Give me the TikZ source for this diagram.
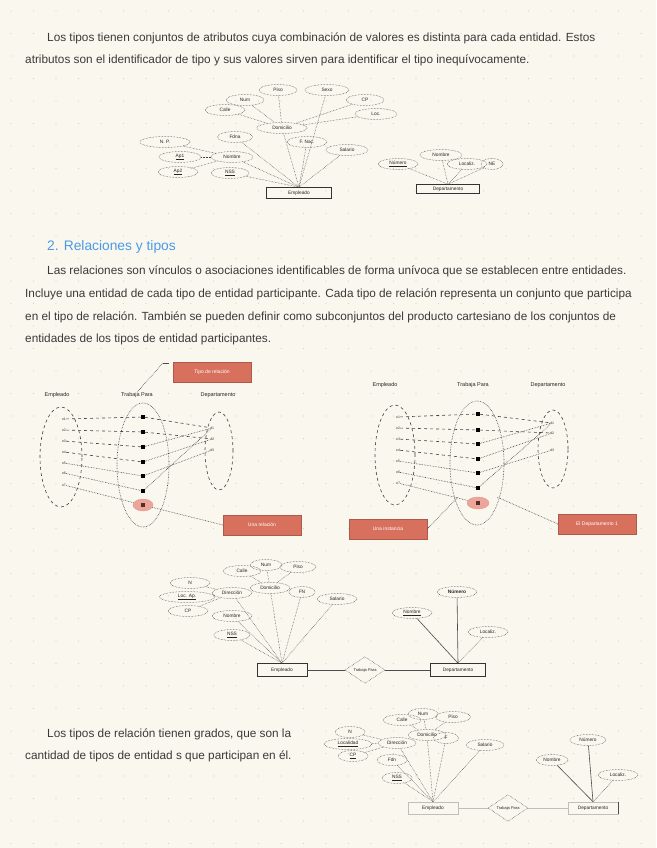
\documentclass[tikz,border=0pt]{standalone}
\usepackage{fontspec}
\setmainfont{Liberation Sans}
\usetikzlibrary{shapes.geometric}
\definecolor{bg}{HTML}{FAF7EE}
\definecolor{dotc}{HTML}{D6D3C8}
\definecolor{txt}{HTML}{3A3A3A}
\definecolor{headc}{HTML}{4A9BE6}
\definecolor{salmon}{HTML}{D8705E}
\definecolor{pinkf}{HTML}{EBA59A}
\begin{document}
\begin{tikzpicture}[x=1pt,y=-1pt,
  para/.style={anchor=base west,inner sep=0pt,text=txt,font=\fontsize{11.8}{13}\selectfont},
  attr/.style={ellipse,draw=black!75,densely dotted,line width=0.5pt,inner sep=0pt,minimum height=11,text=black!85,font=\fontsize{4.8}{5}\selectfont},
  ent/.style={rectangle,draw=black!80,line width=0.6pt,inner sep=0pt,text=black!85,font=\fontsize{4.8}{5}\selectfont},
  rel/.style={diamond,draw=black!75,densely dotted,line width=0.5pt,inner sep=0pt,text=black!85,font=\fontsize{4}{5}\selectfont},
  conn/.style={densely dotted,line width=0.5pt,draw=black!75},
  link/.style={line width=0.6pt,draw=black!70},
  setlab/.style={inner sep=0pt,text=black!85,font=\fontsize{5.5}{6}\selectfont},
  setell/.style={ellipse,draw=black!75,dashed,line width=0.6pt,inner sep=0pt},
  elem/.style={inner sep=0pt,text=black!80,font=\fontsize{3.5}{4}\selectfont},
  sq/.style={rectangle,fill=black,minimum size=3.5,inner sep=0pt},
  redbox/.style={rectangle,fill=salmon,draw=salmon!80!black,line width=0.3pt,text=white,inner sep=0pt,minimum width=78,minimum height=20,font=\fontsize{5}{6}\selectfont},
  dl/.style={dashed,line width=0.6pt,draw=black!75},
  ddl/.style={densely dotted,line width=0.6pt,draw=black!75}
]
\useasboundingbox[fill=bg] (0,0) rectangle (656,848);
\foreach \i in {0,...,29} \foreach \j in {0,...,37}
  \fill[dotc] (11+\i*22.5,11+\j*22.5) circle (0.7);

% ---------- paragraph 1 ----------
\node[para] (p1a) at (47,42) {Los tipos tienen conjuntos de atributos cuya combinación de valores es distinta para cada entidad. Estos};
\node[para] (p1b) at (25,64) {atributos son el identificador de tipo y sus valores sirven para identificar el tipo inequívocamente.};

% ---------- top ER: Empleado ----------
\node[ent,minimum width=65,minimum height=11] (emp1) at (299,193) {Empleado};
\node[attr,minimum width=50] (np) at (165,142) {N. P.};
\node[attr,minimum width=42] (ap1) at (180,157) {\underline{Ap1}};
\node[attr,minimum width=40] (ap2) at (178,172) {\underline{Ap2}};
\node[attr,minimum width=35] (fdna) at (235,137) {Fdna};
\node[attr,minimum width=42] (nom1) at (232,157) {Nombre};
\node[attr,minimum width=38] (nss1) at (230,173) {\underline{NSS}};
\node[attr,minimum width=40] (calle1) at (225,110) {Calle};
\node[attr,minimum width=38] (num1) at (245,100) {Num};
\node[attr,minimum width=38] (piso1) at (278,90) {Piso};
\node[attr,minimum width=44] (sexo1) at (327,90) {Sexo};
\node[attr,minimum width=38] (cp1) at (365,100) {CP};
\node[attr,minimum width=42] (loc1) at (376,114) {Loc.};
\node[attr,minimum width=50] (dom1) at (282,128) {Domicilio};
\node[attr,minimum width=40] (fnac1) at (307,142) {F. Nac.};
\node[attr,minimum width=42] (sal1) at (347,150) {Salario};
\foreach \a in {np,ap1,ap2} \draw[conn] (\a) -- (nom1);
\foreach \a in {calle1,num1,piso1,cp1,loc1} \draw[conn] (\a) -- (dom1);
\foreach \a in {fdna,nom1,nss1,dom1,fnac1,sal1,sexo1} \draw[conn] (\a) -- (emp1.north);

% ---------- top ER: Departamento ----------
\node[ent,minimum width=63,minimum height=9] (dep1) at (448,189) {Departamento};
\node[attr,minimum width=40] (dnum1) at (398,164) {\underline{Número}};
\node[attr,minimum width=42] (dnom1) at (441,155) {Nombre};
\node[attr,minimum width=40] (dloc1) at (467,164) {Localiz.};
\node[attr,minimum width=22] (dne1) at (492,164) {NE};
\foreach \a in {dnum1,dnom1,dloc1,dne1} \draw[conn] (\a) -- (dep1.north);

% ---------- heading + paragraph 2 ----------
\node[para,text=headc,font=\fontsize{13.8}{15}\selectfont] (h2) at (47,250) {2. Relaciones y tipos};
\node[para] (p2a) at (47,274) {Las relaciones son vínculos o asociaciones identificables de forma unívoca que se establecen entre entidades.};
\node[para] (p2b) at (25,297) {Incluye una entidad de cada tipo de entidad participante. Cada tipo de relación representa un conjunto que participa};
\node[para] (p2c) at (25,320) {en el tipo de relación. También se pueden definir como subconjuntos del producto cartesiano de los conjuntos de};
\node[para] (p2d) at (25,342) {entidades de los tipos de entidad participantes.};

% ---------- set diagram left ----------
\node[setlab] (lE) at (57,395) {Empleado};
\node[setlab] (lT) at (137,395) {Trabaja Para};
\node[setlab] (lD) at (218,395) {Departamento};
\node[setell,minimum width=42,minimum height=100] (sE) at (61,457) {};
\node[setell,densely dotted,minimum width=52,minimum height=124] (sT) at (143,465) {};
\node[setell,minimum width=28,minimum height=78] (sD) at (219,451) {};
\foreach \k/\y in {1/419,2/430,3/441,4/452,5/463,6/473,7/485}
  \node[elem] (le\k) at (64,\y) {e\k};
\foreach \k/\y in {1/417,2/432,3/447,4/462,5/476,6/491}
  \node[sq] (lr\k) at (143,\y) {};
\node[ellipse,fill=pinkf,draw=salmon!70,minimum width=20,minimum height=12,inner sep=0pt] (lr7e) at (143,505) {};
\node[sq,fill=black!60!salmon] (lr7) at (143,505) {};
\foreach \k/\y in {1/428,2/439,3/450}
  \node[elem] (ld\k) at (212,\y) {d\k};
\draw[dl] (le1) -- (lr1); \draw[dl] (le2) -- (lr2); \draw[dl] (le3) -- (lr3);
\draw[dl] (le4) -- (lr4); \draw[ddl] (le5) -- (lr5); \draw[ddl] (le6) -- (lr6); \draw[ddl] (le7) -- (lr7e);
\draw[dl] (lr1) -- (ld1); \draw[dl] (lr2) -- (ld2); \draw[ddl] (lr3) -- (ld1);
\draw[ddl] (lr4) -- (ld2); \draw[ddl] (lr5) -- (ld3); \draw[ddl] (lr6) -- (ld1);
\node[redbox] (rb1) at (212,372) {Tipo de relación};
\coordinate (rb1c) at (163,363);
\draw[ddl] (rb1c) -- (lT.north);
\draw[link] (rb1c) -- ++(6,0);
\node[redbox] (rb2) at (262,525) {Una relación};
\draw[ddl] (lr7e) -- (rb2.west);

% ---------- set diagram right ----------
\node[setlab] (rE) at (385,385) {Empleado};
\node[setlab] (rT) at (473,385) {Trabaja Para};
\node[setlab] (rD) at (548,385) {Departamento};
\node[setell,minimum width=40,minimum height=100] (tE) at (395,455) {};
\node[setell,densely dotted,minimum width=54,minimum height=124] (tT) at (477,463) {};
\node[setell,minimum width=30,minimum height=78] (tD) at (553,449) {};
\foreach \k/\y in {1/417,2/428,3/439,4/450,5/461,6/472,7/483}
  \node[elem] (re\k) at (398,\y) {e\k};
\foreach \k/\y in {1/414,2/430,3/444,4/459,5/473,6/488}
  \node[sq] (rr\k) at (478,\y) {};
\node[ellipse,fill=pinkf,draw=salmon!70,minimum width=22,minimum height=12,inner sep=0pt] (rr7e) at (478,503) {};
\node[sq,fill=black!60!salmon] (rr7) at (478,503) {};
\foreach \k/\y in {1/423,2/433,3/450}
  \node[elem] (rd\k) at (552,\y) {d\k};
\draw[dl] (re1) -- (rr1); \draw[dl] (re2) -- (rr2); \draw[dl] (re3) -- (rr3);
\draw[dl] (re4) -- (rr4); \draw[ddl] (re5) -- (rr5); \draw[ddl] (re6) -- (rr6); \draw[ddl] (re7) -- (rr7e);
\draw[dl] (rr1) -- (rd1); \draw[dl] (rr2) -- (rd2); \draw[ddl] (rr3) -- (rd1);
\draw[ddl] (rr4) -- (rd2); \draw[ddl] (rr5) -- (rd3); \draw[ddl] (rr6) -- (rd1);
\node[redbox] (rb3) at (388,529) {Una instancia};
\node[redbox] (rb4) at (597,524) {El Departamento 1};
\coordinate (rb3c) at (458,497);
\draw[ddl] (rb3.east) -- (rb3c);
\coordinate (rb4c) at (497,497);
\draw[ddl] (rb4.west) -- (rb4c);

% ---------- bottom ER 1 ----------
\node[ent,minimum width=50,minimum height=13] (emp2) at (282,670) {Empleado};
\node[rel,minimum width=40,minimum height=22] (rel2) at (365,670) {Trabaja Para};
\node[ent,minimum width=55,minimum height=13] (dep2) at (458,670) {Departamento};
\draw[link] (emp2) -- (rel2);
\draw[link] (rel2) -- (dep2);
\node[attr,minimum width=40] (n2) at (190,583) {N};
\node[attr,minimum width=55] (loc2) at (187,597) {\underline{Loc. Ap.}};
\node[attr,minimum width=40] (cp2) at (188,611) {CP};
\node[attr,minimum width=40] (dir2) at (232,593) {Dirección};
\node[attr,minimum width=38] (calle2) at (242,571) {Calle};
\node[attr,minimum width=32] (num2) at (266,565) {Num};
\node[attr,minimum width=36] (piso2) at (298,567) {Piso};
\node[attr,minimum width=40] (dom2) at (270,588) {Domicilio};
\node[attr,minimum width=26] (fn2) at (302,592) {FN};
\node[attr,minimum width=40] (sal2) at (337,599) {Salario};
\node[attr,minimum width=40] (nomb2) at (232,616) {Nombre};
\node[attr,minimum width=36] (nss2) at (232,635) {\underline{NSS}};
\foreach \a in {n2,loc2,cp2} \draw[conn] (\a) -- (dir2);
\foreach \a in {calle2,num2,piso2} \draw[conn] (\a) -- (dom2);
\foreach \a in {dir2,dom2,fn2,sal2,nomb2,nss2} \draw[conn] (\a) -- (emp2.north);
\node[attr,minimum width=40] (dnum2) at (457,592) {\textbf{Número}};
\node[attr,minimum width=40] (dnom2) at (412,613) {\underline{Nombre}};
\node[attr,minimum width=40] (dloc2) at (488,632) {Localiz.};
\draw[link] (dnom2) -- (dep2.north);
\draw[link] (dnum2) -- (dep2.north);
\draw[conn] (dloc2) -- (dep2.north);

% ---------- paragraph 3 ----------
\node[para] (p3a) at (47,737) {Los tipos de relación tienen grados, que son la};
\node[para] (p3b) at (25,759) {cantidad de tipos de entidad s que participan en él.};

% ---------- bottom ER 2 ----------
\node[ent,draw=black!25,minimum width=50,minimum height=12] (emp3) at (433,808) {Empleado};
\node[rel,minimum width=40,minimum height=24] (rel3) at (508,808) {Trabaja Para};
\node[ent,draw=black!25,minimum width=50,minimum height=12] (dep3) at (593,808) {Departamento};
\draw[link,draw=black!25] (emp3) -- (rel3);
\draw[link,draw=black!25] (rel3) -- (dep3);
\draw[link] (dep3.north east) -- (dep3.south east);
\node[attr,minimum width=30] (n3) at (350,732) {N};
\node[attr,minimum width=48] (loc3) at (348,744) {\underline{Localidad}};
\node[attr,minimum width=30] (cp3) at (353,756) {\underline{CP}};
\node[attr,minimum width=38] (dir3) at (397,743) {Dirección};
\node[attr,minimum width=38] (calle3) at (402,720) {Calle};
\node[attr,minimum width=30] (num3) at (423,714) {Num};
\node[attr,minimum width=35] (piso3) at (453,717) {Piso};
\node[attr,minimum width=38] (dom3) at (427,735) {Domicilio};
\node[attr,minimum width=25] (f3) at (446,738) {F};
\node[attr,minimum width=30] (fdn3) at (392,760) {Fdn};
\node[attr,minimum width=30] (nss3) at (397,778) {\underline{NSS}};
\node[attr,minimum width=38] (sal3) at (485,745) {Salario};
\foreach \a in {n3,loc3,cp3} \draw[conn] (\a) -- (dir3);
\foreach \a in {calle3,num3,piso3} \draw[conn] (\a) -- (dom3);
\foreach \a in {dir3,dom3,f3,fdn3,nss3,sal3} \draw[conn] (\a) -- (emp3.north);
\node[attr,minimum width=36] (dn3) at (588,740) {Número};
\node[attr,minimum width=32] (dnom3) at (552,760) {Nombre};
\node[attr,minimum width=40] (dloc3) at (618,775) {Localiz.};
\draw[link] (dn3) -- (dep3.north);
\draw[link] (dnom3) -- (dep3.north);
\draw[conn] (dloc3) -- (dep3.north);
\end{tikzpicture}
\end{document}
